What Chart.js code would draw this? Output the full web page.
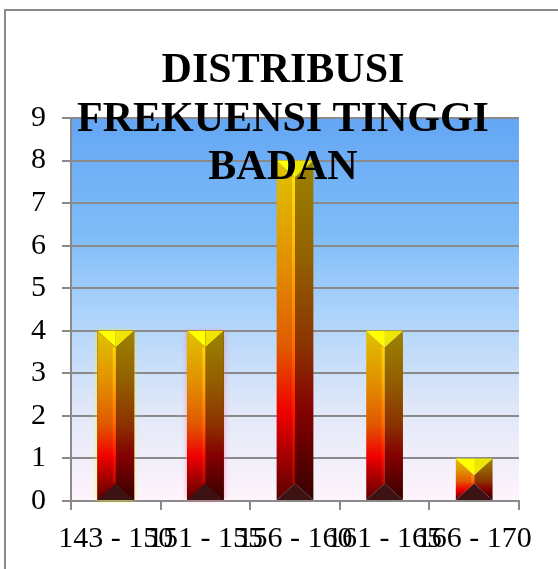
<!DOCTYPE html>
<html>
<head>
<meta charset="utf-8">
<script src="https://cdn.jsdelivr.net/npm/chart.js@4.4.1/dist/chart.umd.min.js"></script>
<style>
  html, body { margin: 0; padding: 0; background: #fff; overflow: hidden; }
  #wrap { position: relative; width: 558px; height: 569px; }
  #frame { position: absolute; left: 4px; top: 9px; width: 700px; height: 700px; border: 2px solid #8c8c8c; box-sizing: border-box; }
  canvas { position: absolute; left: 0; top: 0; }
</style>
</head>
<body>
<div id="wrap">
  <div id="frame"></div>
  <canvas id="chart" width="558" height="569"></canvas>
</div>
<script>
const titleLines = ["DISTRIBUSI", "FREKUENSI TINGGI", "BADAN"];
const categories = ["143 - 150", "151 - 155", "156 - 160", "161 - 165", "166 - 170"];
const frequencies = [4, 4, 8, 4, 1];
const yTicks = [0, 1, 2, 3, 4, 5, 6, 7, 8, 9];
const glowColors = ['rgba(255,240,0,0.9)', 'rgba(255,120,150,0.7)', null, null, null];

const GRAY = '#8a8a8a';
const SERIF = '"Liberation Serif", "Times New Roman", serif';

// plot area gradient (blue top -> pale pink bottom)
const plotBackground = {
  id: 'plotBackground',
  beforeDraw(chart) {
    const { ctx, chartArea: a } = chart;
    const g = ctx.createLinearGradient(0, a.top, 0, a.bottom);
    g.addColorStop(0, '#64a6f4');
    g.addColorStop(0.3, '#7ebcf8');
    g.addColorStop(0.5, '#aad2fb');
    g.addColorStop(0.75, '#dfe7f8');
    g.addColorStop(1, '#fff4fc');
    ctx.save();
    ctx.fillStyle = g;
    ctx.fillRect(a.left, a.top, a.right - a.left, a.bottom - a.top);
    ctx.restore();
  }
};

function vgrad(ctx, yt, yb, stops) {
  const g = ctx.createLinearGradient(0, yt, 0, yb);
  stops.forEach(s => g.addColorStop(s[0], s[1]));
  return g;
}

function poly(ctx, pts, fill) {
  ctx.beginPath();
  ctx.moveTo(pts[0][0], pts[0][1]);
  for (let i = 1; i < pts.length; i++) ctx.lineTo(pts[i][0], pts[i][1]);
  ctx.closePath();
  ctx.fillStyle = fill;
  ctx.fill();
}

// beveled "pyramid" bars like the Excel preset
const bevelBars = {
  id: 'bevelBars',
  afterDatasetsDraw(chart) {
    const ctx = chart.ctx;
    const meta = chart.getDatasetMeta(0);
    meta.data.forEach((bar, i) => {
      const w = bar.width;
      const x0 = bar.x - w / 2, x1 = bar.x + w / 2, xc = bar.x;
      const yt = bar.y, yb = bar.base;
      const h = yb - yt;
      const d = Math.min(w * 0.45, h / 2);
      ctx.save();
      if (glowColors[i]) {
        ctx.save();
        ctx.shadowColor = glowColors[i];
        ctx.shadowBlur = 5;
        ctx.fillStyle = '#600000';
        ctx.fillRect(x0, yt, w, h);
        ctx.restore();
      }
      // left face
      poly(ctx, [[x0, yt], [xc, yt + d], [xc, yb - d], [x0, yb]], vgrad(ctx, yt, yb, [
        [0, '#e0c400'], [0.3, '#e29000'], [0.55, '#e05a00'], [0.74, '#f00000'], [1, '#5a0000']
      ]));
      // right face
      poly(ctx, [[x1, yt], [xc, yt + d], [xc, yb - d], [x1, yb]], vgrad(ctx, yt, yb, [
        [0, '#9c8400'], [0.3, '#925e00'], [0.55, '#8c3200'], [0.74, '#840000'], [1, '#360000']
      ]));
      // ridge highlight
      ctx.fillStyle = vgrad(ctx, yt, yb, [
        [0, '#ffe600'], [0.3, '#ffae00'], [0.55, '#ff6a00'], [0.74, '#ff1000'], [1, '#8a0000']
      ]);
      ctx.fillRect(xc - 3, yt + d, 3, Math.max(0, h - 2 * d));
      // top cap
      poly(ctx, [[x0, yt], [xc, yt], [xc, yt + d]], '#ffff00');
      poly(ctx, [[xc, yt], [x1, yt], [xc, yt + d]], '#eee600');
      // bottom cap
      poly(ctx, [[x0, yb], [x1, yb], [xc, yb - d]], '#3c1212');
      ctx.restore();
    });
  }
};

// title overlaps the plot area, so it is drawn by hand on top
const overlayTitle = {
  id: 'overlayTitle',
  afterDraw(chart) {
    const ctx = chart.ctx;
    ctx.save();
    ctx.font = 'bold 42px ' + SERIF;
    ctx.fillStyle = '#000';
    ctx.textAlign = 'center';
    ctx.textBaseline = 'alphabetic';
    titleLines.forEach((t, i) => ctx.fillText(t, 283, 82 + i * 48.5));
    ctx.restore();
  }
};

new Chart(document.getElementById('chart'), {
  type: 'bar',
  data: {
    labels: categories,
    datasets: [{
      data: frequencies,
      backgroundColor: 'rgba(0,0,0,0)',
      borderWidth: 0,
      barPercentage: 0.41,
      categoryPercentage: 1
    }]
  },
  options: {
    responsive: false,
    animation: false,
    layout: { padding: { top: 118, right: 39, left: 0, bottom: 0 } },
    plugins: { legend: { display: false }, tooltip: { enabled: false }, title: { display: false } },
    scales: {
      x: {
        offset: true,
        grid: { display: true, offset: true, drawOnChartArea: false, drawTicks: true, tickLength: 9, color: GRAY, lineWidth: 2 },
        border: { display: true, color: GRAY, width: 2 },
        ticks: { color: '#000', font: { family: SERIF, size: 30 }, padding: 11, maxRotation: 0, autoSkip: false },
        afterFit(s) { s.height = 68; }
      },
      y: {
        min: 0,
        max: 9,
        afterBuildTicks(s) { s.ticks = yTicks.map(v => ({ value: v })); },
        grid: { color: GRAY, lineWidth: 2, tickLength: 9 },
        border: { display: true, color: GRAY, width: 2 },
        ticks: { color: '#000', font: { family: SERIF, size: 30 }, padding: 16 },
        afterFit(s) { s.width = 71; }
      }
    }
  },
  plugins: [plotBackground, bevelBars, overlayTitle]
});
</script>
</body>
</html>
